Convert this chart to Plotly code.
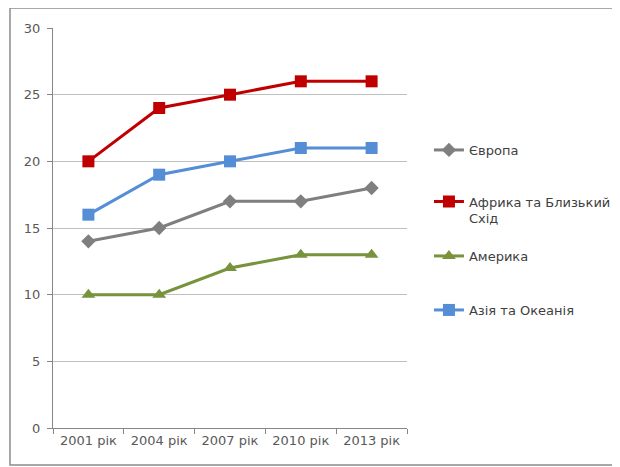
import plotly.graph_objects as go

categories = ["2001 рік", "2004 рік", "2007 рік", "2010 рік", "2013 рік"]
europe = [14, 15, 17, 17, 18]
africa = [20, 24, 25, 26, 26]
america = [10, 10, 12, 13, 13]
asia = [16, 19, 20, 21, 21]

series = [
    ("Європа", europe, "#7F7F7F", "diamond", 11),
    ("Африка та Близький<br>Схід", africa, "#C00000", "square", 12),
    ("Америка", america, "#77933C", "triangle-up", 12),
    ("Азія та Океанія", asia, "#558ED5", "square", 12),
]
legend_y = [0.695, 0.545, 0.43, 0.295]

font_family = "'DejaVu Sans', sans-serif"
fsize = 13

fig = go.Figure()
legends = {}
for i, (name, vals, color, sym, size) in enumerate(series):
    lname = "legend" if i == 0 else f"legend{i+1}"
    fig.add_trace(go.Scatter(
        x=categories, y=vals, name=name, mode="lines+markers",
        line=dict(color=color, width=3),
        marker=dict(symbol=sym, size=size, color=color),
        legend=lname,
    ))
    legends[lname] = dict(x=1.062, y=legend_y[i], xanchor="left", yanchor="middle",
                          valign="top", font=dict(family=font_family, size=fsize, color="#404040"),
                          bgcolor="rgba(0,0,0,0)")

fig.update_layout(
    width=612, height=459,
    margin=dict(l=45, r=213, t=20, b=39, autoexpand=False),
    paper_bgcolor="white", plot_bgcolor="white",
    font=dict(family=font_family, size=fsize, color="#595959"),
    showlegend=True,
    xaxis=dict(type="category", range=[-0.5, 4.5], showgrid=False,
               showline=True, linecolor="#868686", linewidth=1,
               ticks="outside", tickson="boundaries", ticklen=5,
               tickcolor="#868686", tickfont=dict(size=fsize, color="#595959")),
    yaxis=dict(range=[0, 30], dtick=5, showgrid=True, gridcolor="#BFBFBF",
               gridwidth=1, showline=True, linecolor="#868686", linewidth=1,
               ticks="outside", ticklen=5, tickcolor="#868686",
               ticklabelstandoff=4,
               zeroline=False, tickfont=dict(size=fsize, color="#595959")),
    shapes=[dict(type="rect", xref="paper", yref="paper",
                 x0=-0.1215, x1=1.62, y0=-0.0925, y1=1.05,
                 line=dict(color="#8C8C8C", width=1.5), layer="below")],
    **legends,
)

fig.write_html("out.html")
